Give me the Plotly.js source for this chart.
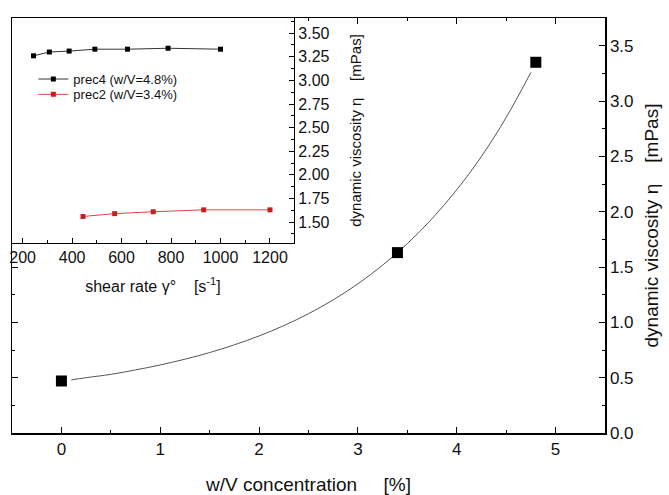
<!DOCTYPE html>
<html>
<head>
<meta charset="utf-8">
<script src="https://cdn.plot.ly/plotly-3.0.1.min.js"></script>
<style>html,body{margin:0;padding:0;background:#fff;}#chart{width:669px;height:495px;}</style>
</head>
<body>
<div id="chart"></div>
<script>
// Main plot: viscosity vs concentration
const concX = [0, 3.4, 4.8];
const concY = [0.47, 1.63, 3.35];
// fitted curve
const fitX = [0.1, 0.25, 0.5, 0.75, 1.0, 1.25, 1.5, 1.75, 2.0, 2.25, 2.5, 2.75, 3.0, 3.25, 3.5, 3.75, 4.0, 4.25, 4.5, 4.75];
const fitY = [0.48, 0.50, 0.53, 0.57, 0.615, 0.667, 0.727, 0.797, 0.877, 0.97, 1.078, 1.203, 1.348, 1.517, 1.711, 1.937, 2.198, 2.499, 2.851, 3.258];
// Inset: viscosity vs shear rate
const prec4X = [244, 308, 388, 492, 624, 788, 1000];
const prec4Y = [3.26, 3.30, 3.31, 3.33, 3.33, 3.34, 3.33];
const prec2X = [444, 572, 728, 932, 1200];
const prec2Y = [1.56, 1.59, 1.61, 1.63, 1.63];
const prec4Name = 'prec4 (w/V=4.8%)';
const prec2Name = 'prec2 (w/V=3.4%)';

const F = 'Liberation Sans, Arial, sans-serif';
const sp = '\u00a0\u00a0\u00a0\u00a0';

const traces = [
  {x: fitX, y: fitY, mode: 'lines', line: {color: '#555', width: 1, shape: 'spline'}, showlegend: false, hoverinfo: 'skip'},
  {x: concX, y: concY, mode: 'markers', marker: {symbol: 'square', size: 11, color: '#000'}, showlegend: false},
  {x: prec4X, y: prec4Y, xaxis: 'x2', yaxis: 'y2', name: prec4Name, mode: 'lines+markers', legend: 'legend',
   line: {color: '#333', width: 1}, marker: {symbol: 'square', size: 5, color: '#000'}},
  {x: prec2X, y: prec2Y, xaxis: 'x2', yaxis: 'y2', name: prec2Name, mode: 'lines+markers', legend: 'legend2',
   line: {color: '#d84848', width: 1}, marker: {symbol: 'square', size: 5, color: '#c81e1e'}}
];

const legFont = {family: F, size: 13, color: '#111'};
const layout = {
  width: 669, height: 495,
  margin: {l: 12, r: 64, t: 18, b: 62},
  paper_bgcolor: '#fff', plot_bgcolor: '#fff',
  font: {family: F, color: '#111', size: 16},
  showlegend: true,
  legend: {x: 0.036, y: 0.889, xanchor: 'left', yanchor: 'top', bgcolor: 'rgba(0,0,0,0)', font: legFont, itemwidth: 30},
  legend2: {x: 0.036, y: 0.852, xanchor: 'left', yanchor: 'top', bgcolor: 'rgba(0,0,0,0)', font: legFont, itemwidth: 30},
  xaxis: {
    range: [-0.5, 5.5], domain: [0, 1], anchor: 'y',
    tickvals: [0, 1, 2, 3, 4, 5], ticks: 'inside', ticklen: 6, tickwidth: 1, tickcolor: '#000',
    showline: true, linecolor: '#000', linewidth: 1.5, mirror: 'ticks',
    minor: {tickvals: [0.5, 1.5, 2.5, 3.5, 4.5], ticks: 'inside', ticklen: 3, tickcolor: '#000'},
    showgrid: false, zeroline: false,
    tickfont: {size: 17, family: F},
    title: {text: 'w/V concentration' + sp + '\u00a0[%]', font: {size: 19, family: F}, standoff: 22}
  },
  yaxis: {
    range: [0, 3.75], domain: [0, 1], anchor: 'x', side: 'right',
    tickvals: [0, 0.5, 1, 1.5, 2, 2.5, 3, 3.5], ticktext: ['0.0','0.5','1.0','1.5','2.0','2.5','3.0','3.5'],
    ticks: 'inside', ticklen: 6, tickwidth: 1, tickcolor: '#000',
    showline: true, linecolor: '#000', linewidth: 1.5, mirror: 'ticks',
    minor: {tickvals: [0.25, 0.75, 1.25, 1.75, 2.25, 2.75, 3.25], ticks: 'inside', ticklen: 3, tickcolor: '#000'},
    showgrid: false, zeroline: false,
    tickfont: {size: 17, family: F},
    title: {text: 'dynamic viscosity η' + sp + '[mPas]', font: {size: 19, family: F}, standoff: 12}
  },
  xaxis2: {
    range: [157, 1297], domain: [0, 0.4755], anchor: 'y2',
    tickvals: [200, 400, 600, 800, 1000, 1200], ticks: 'inside', ticklen: 5, tickwidth: 1, tickcolor: '#000',
    showline: true, linecolor: '#000', linewidth: 1.2, mirror: false,
    minor: {tickvals: [300, 500, 700, 900, 1100], ticks: 'inside', ticklen: 3, tickcolor: '#000'},
    showgrid: false, zeroline: false,
    tickfont: {size: 16, family: F},
    title: {text: 'shear rate γ°' + sp + '[s<sup>-1</sup>]', font: {size: 16, family: F}, standoff: 15}
  },
  yaxis2: {
    range: [1.28, 3.66], domain: [0.458, 1], anchor: 'x2', side: 'right',
    tickvals: [1.5, 1.75, 2.0, 2.25, 2.5, 2.75, 3.0, 3.25, 3.5],
    ticktext: ['1.50','1.75','2.00','2.25','2.50','2.75','3.00','3.25','3.50'],
    ticks: 'inside', ticklen: 5, tickwidth: 1, tickcolor: '#000',
    showline: true, linecolor: '#000', linewidth: 1.2, mirror: false,
    minor: {tickvals: [1.375, 1.625, 1.875, 2.125, 2.375, 2.625, 2.875, 3.125, 3.375, 3.625], ticks: 'inside', ticklen: 3, tickcolor: '#000'},
    showgrid: false, zeroline: false,
    tickfont: {size: 16, family: F},
    title: {text: 'dynamic viscosity η' + sp + '[mPas]', font: {size: 15, family: F}, standoff: 21}
  }
};

Plotly.newPlot('chart', traces, layout, {displayModeBar: false, staticPlot: true});
</script>
</body>
</html>
